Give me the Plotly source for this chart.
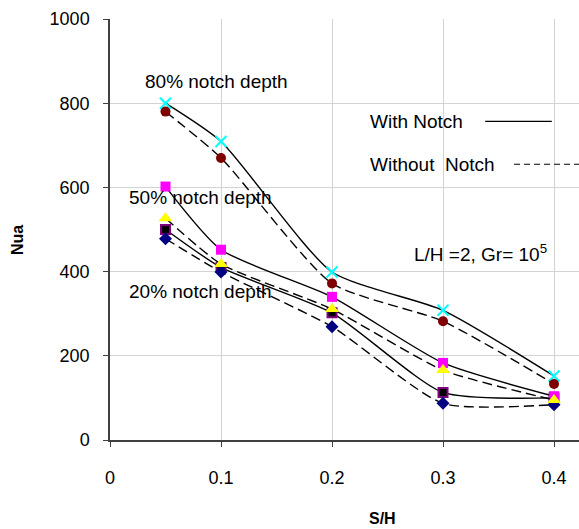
import plotly.graph_objects as go

sh = [0.05, 0.1, 0.2, 0.3, 0.4]

nua_80_with = [800, 709, 399, 308, 152]
nua_80_without = [780, 670, 372, 282, 133]
nua_50_with = [602, 452, 340, 183, 104]
nua_50_without = [527, 418, 311, 166, 95]
nua_20_with = [500, 410, 302, 113, 100]
nua_20_without = [478, 399, 269, 87, 84]

x_ticks = [0, 0.1, 0.2, 0.3, 0.4]
y_ticks = [0, 200, 400, 600, 800, 1000]

FONT = "Liberation Sans, Arial, sans-serif"
DASH = "10px,5px"

series = [
    (nua_20_with, "solid", dict(symbol="square", size=9, color="#000000", line=dict(color="#800080", width=2))),
    (nua_20_without, DASH, dict(symbol="diamond", size=10, color="#000080")),
    (nua_50_with, "solid", dict(symbol="square", size=10, color="#FF00FF")),
    (nua_50_without, DASH, dict(symbol="triangle-up", size=12, color="#FFFF00")),
    (nua_80_with, "solid", dict(symbol="x-thin", size=11, color="#00FFFF", line=dict(color="#00FFFF", width=2))),
    (nua_80_without, DASH, dict(symbol="circle", size=10, color="#800000")),
]

fig = go.Figure()
for vals, dash, marker in series:
    fig.add_trace(go.Scatter(
        x=sh, y=vals, mode="lines+markers",
        line=dict(color="black", width=1.4, dash=dash, shape="spline", smoothing=0.6),
        marker=marker, showlegend=False,
    ))

annotations = [
    dict(x=0.0297, y=852, text="80% notch depth", xanchor="left"),
    dict(x=0.0153, y=575, text="50% notch depth", xanchor="left"),
    dict(x=0.0153, y=352, text="20% notch depth", xanchor="left"),
    dict(x=0.272, y=444, text="L/H =2, Gr= 10<sup>5</sup>", xanchor="left"),
    dict(x=0.2324, y=757, text="With Notch", xanchor="left"),
    dict(x=0.2324, y=655, text="Without  Notch", xanchor="left"),
]
for a in annotations:
    fig.add_annotation(xref="x", yref="y", showarrow=False, yanchor="middle",
                       font=dict(family=FONT, size=19, color="black"), **a)

# axis titles
fig.add_annotation(xref="paper", yref="paper", x=(382 - 110) / 469, y=-(518 - 440) / 421,
                   text="<b>S/H</b>", showarrow=False, xanchor="center", yanchor="middle",
                   font=dict(family=FONT, size=16, color="black"))
fig.add_annotation(xref="paper", yref="paper", x=-(110 - 17) / 469, y=(440 - 240) / 421,
                   text="<b>Nua</b>", showarrow=False, textangle=-90,
                   xanchor="center", yanchor="middle",
                   font=dict(family=FONT, size=16, color="black"))

fig.add_shape(type="line", xref="x", yref="y", x0=0.338, x1=0.398, y0=757, y1=757,
              line=dict(color="black", width=1.2))
fig.add_shape(type="line", xref="x", yref="y", x0=0.364, x1=0.4225, y0=655, y1=655,
              line=dict(color="black", width=1.2, dash="6px,4px"))

fig.update_layout(
    width=579, height=529,
    margin=dict(l=110, r=0, t=19, b=89),
    paper_bgcolor="white", plot_bgcolor="white",
    font=dict(family=FONT, size=18, color="black"),
)
fig.update_xaxes(
    range=[0, 0.4225], tickvals=x_ticks, ticktext=[str(v) for v in x_ticks],
    showgrid=True, gridcolor="#D3D3D3", gridwidth=1,
    showline=True, linecolor="#404040", linewidth=1.5,
    ticks="outside", ticklen=5, tickcolor="#404040", ticklabelstandoff=16,
    zeroline=False,
)
fig.update_yaxes(
    range=[0, 1000], tickvals=y_ticks,
    showgrid=True, gridcolor="#D3D3D3", gridwidth=1,
    showline=True, linecolor="#404040", linewidth=1.5,
    ticks="outside", ticklen=5, tickcolor="#404040", ticklabelstandoff=10,
    zeroline=False,
)

fig.write_html("out.html")
